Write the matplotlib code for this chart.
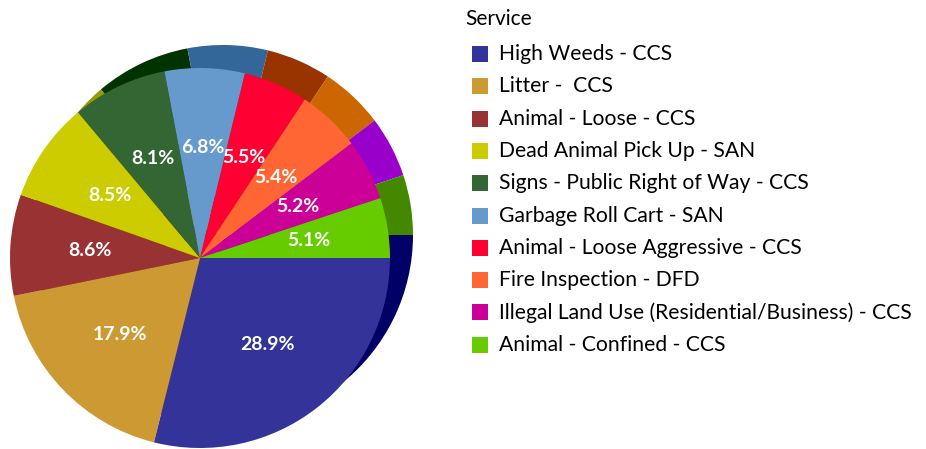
import matplotlib.pyplot as plt
from matplotlib.patches import Rectangle

plt.rcParams.update({
    "font.family": ["Lato", "DejaVu Sans"],
})

services = [
    "High Weeds - CCS",
    "Litter -  CCS",
    "Animal - Loose - CCS",
    "Dead Animal Pick Up - SAN",
    "Signs - Public Right of Way - CCS",
    "Garbage Roll Cart - SAN",
    "Animal - Loose Aggressive - CCS",
    "Fire Inspection - DFD",
    "Illegal Land Use (Residential/Business) - CCS",
    "Animal - Confined - CCS",
]
shares = [28.9, 17.9, 8.6, 8.5, 8.1, 6.8, 5.5, 5.4, 5.2, 5.1]
face_colors = ["#333399", "#CC9933", "#993333", "#CCCC00", "#336633",
               "#6699CC", "#FF0033", "#FF6633", "#CC0099", "#66CC00"]
side_colors = ["#000066", "#996600", "#660000", "#999900", "#003300",
               "#336699", "#993300", "#CC6600", "#9900CC", "#448800"]

W, H = 926, 449
fig = plt.figure(figsize=(W / 100, H / 100), dpi=100)
ax = fig.add_axes([0, 0, 1, 1])

cx, cy, r = 200, H - 258, 190
depth = 23

# darker copy behind, shifted up-right, gives the 3D side
ax.pie(shares, colors=side_colors, startangle=0, counterclock=False,
       radius=r, center=(cx + depth, cy + depth),
       wedgeprops=dict(linewidth=0))
wedges, texts, autotexts = ax.pie(
    shares, colors=face_colors, startangle=0, counterclock=False,
    radius=r, center=(cx, cy), autopct="%.1f%%", pctdistance=0.58,
    wedgeprops=dict(linewidth=0),
    textprops=dict(color="white", fontsize=14, fontweight="bold"))

ax.set_xlim(0, W)
ax.set_ylim(0, H)
ax.set_aspect("equal")
ax.axis("off")

# legend
fig.text(465 / W, 1 - 19 / H, "Service", fontsize=15, color="black",
         va="center", ha="left")
for i, (name, col) in enumerate(zip(services, face_colors)):
    yc = 54 + i * 32.3
    fig.add_artist(Rectangle((472 / W, 1 - (yc + 8) / H), 16 / W, 16 / H,
                             transform=fig.transFigure, color=col, lw=0))
    fig.text(499 / W, 1 - yc / H, name, fontsize=15.2, color="black",
             va="center", ha="left")

plt.savefig("out.png", dpi=100)
